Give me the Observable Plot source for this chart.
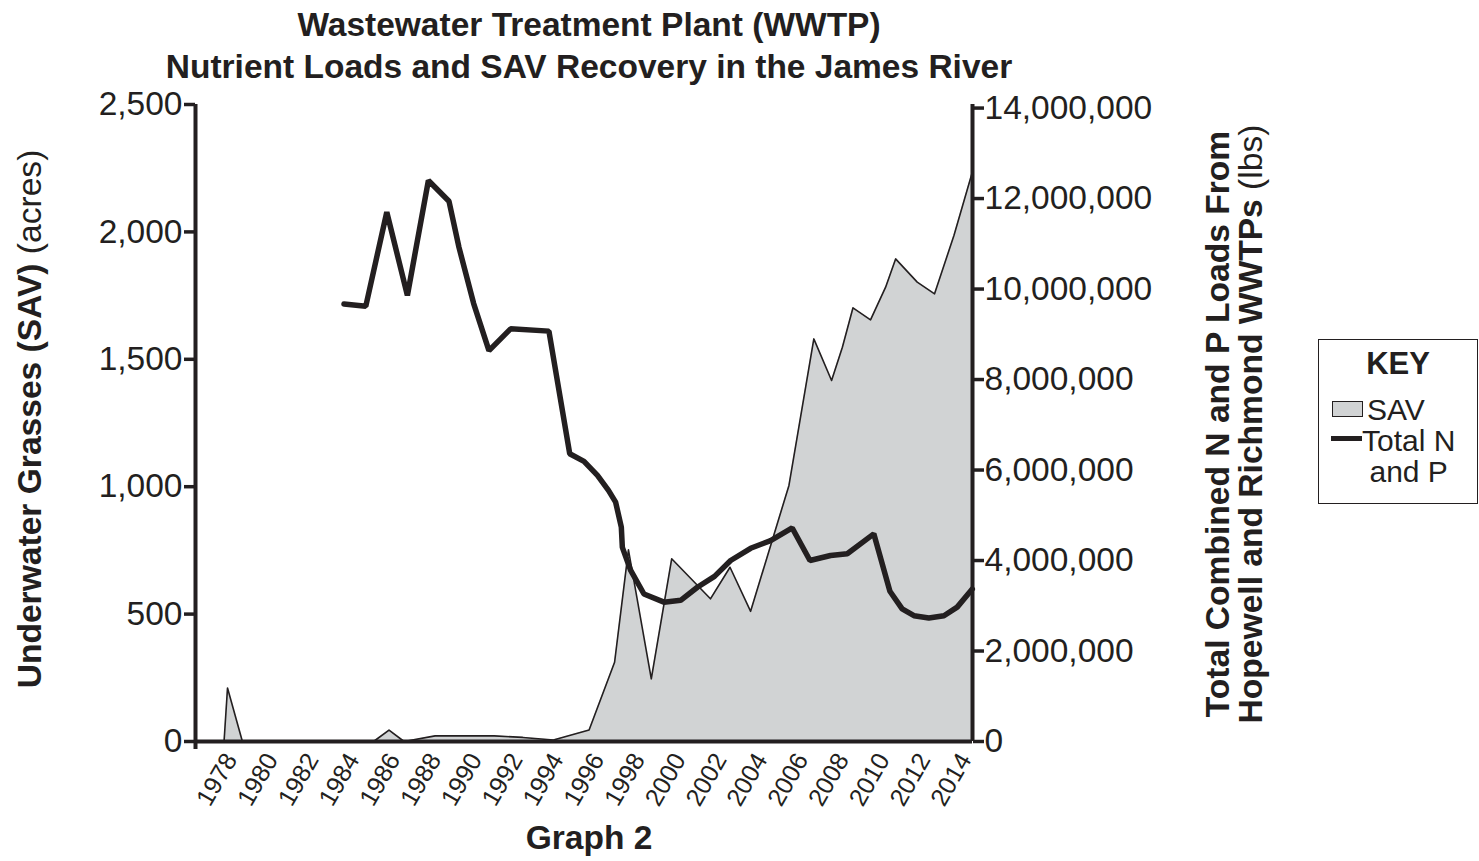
<!DOCTYPE html>
<html>
<head>
<meta charset="utf-8">
<script src="https://cdn.jsdelivr.net/npm/d3@7"></script>
<script src="https://cdn.jsdelivr.net/npm/@observablehq/plot@0.6"></script>
<style>
  html, body { margin: 0; padding: 0; background: #fff; }
  #wrap { position: relative; width: 1479px; height: 861px; font-family: "Liberation Sans", Arial, sans-serif; color: #231f20; overflow: hidden; }
  .t { position: absolute; white-space: nowrap; }
  .title { font-weight: bold; font-size: 33.5px; left: 589px; transform: translate(-50%, -50%); }
  .rot { transform: translate(-50%, -50%) rotate(-90deg); font-size: 33.6px; }
  #key { position: absolute; left: 1318px; top: 339px; width: 160px; height: 165px; border: 1.5px solid #231f20; box-sizing: border-box; }
</style>
</head>
<body>
<div id="wrap"></div>
<script>
// ---- data ----
const savYears = [1978.15, 1978.32, 1979.05, 1985.48, 1986.24, 1986.98, 1988.5, 1991.4, 1992.8, 1994.3, 1996.05, 1997.3, 1997.98, 1999.1, 2000.1, 2002.0, 2002.96, 2003.97, 2005.85, 2007.07, 2007.94, 2008.47, 2008.99, 2009.85, 2010.59, 2011.08, 2012.14, 2012.99, 2013.94, 2014.84];
const savAcres = [0, 210, 0, 0, 45, 0, 22, 22, 16, 6, 45, 311, 752, 246, 717, 560, 684, 511, 1005, 1580, 1417, 1547, 1702, 1655, 1783, 1894, 1803, 1757, 1986, 2234];

const nutYears = [1984.03, 1985.1, 1986.13, 1987.14, 1988.17, 1989.18, 1989.67, 1990.39, 1991.14, 1992.2, 1994.08, 1995.1, 1995.8, 1996.46, 1997.0, 1997.35, 1997.63, 1997.68, 1998.09, 1998.74, 1999.72, 2000.54, 2001.36, 2002.2, 2002.99, 2003.97, 2004.95, 2006.01, 2006.88, 2007.89, 2008.71, 2010.01, 2010.8, 2011.4, 2011.98, 2012.71, 2013.45, 2014.1, 2014.84];
const nutLbs = [9670000, 9620000, 11700000, 9860000, 12400000, 11940000, 10920000, 9680000, 8640000, 9120000, 9070000, 6360000, 6190000, 5880000, 5550000, 5290000, 4740000, 4290000, 3780000, 3260000, 3080000, 3120000, 3410000, 3650000, 4000000, 4270000, 4440000, 4720000, 4000000, 4110000, 4150000, 4590000, 3320000, 2930000, 2780000, 2730000, 2780000, 2970000, 3370000];

const yearTicks = [1978, 1980, 1982, 1984, 1986, 1988, 1990, 1992, 1994, 1996, 1998, 2000, 2002, 2004, 2006, 2008, 2010, 2012, 2014];
const acreTicks = [0, 500, 1000, 1500, 2000, 2500];
const lbsTicks = [0, 2000000, 4000000, 6000000, 8000000, 10000000, 12000000, 14000000];

// lbs -> acres equivalent on the shared vertical scale
const k = 2486 / 14000000;

const sav = savYears.map((y, i) => ({year: y, acres: savAcres[i]}));
const nut = nutYears.map((y, i) => ({year: y, lbs: nutLbs[i], v: nutLbs[i] * k}));

const ink = "#231f20";
const xDomain = [1976.75, 2014.85];
const fmt = d3.format(",");

const chart = Plot.plot({
  width: 1479,
  height: 861,
  marginLeft: 195,
  marginRight: 507,
  marginTop: 104,
  marginBottom: 120,
  style: {fontFamily: '"Liberation Sans", Arial, sans-serif', color: ink, background: "transparent", overflow: "visible"},
  x: {domain: xDomain, type: "linear"},
  y: {domain: [0, 2500]},
  marks: [
    Plot.areaY(sav, {x: "year", y: "acres", fill: "#d1d3d4"}),
    Plot.lineY(sav, {x: "year", y: "acres", stroke: ink, strokeWidth: 1.6}),
    Plot.lineY(nut, {x: "year", y: "v", stroke: ink, strokeWidth: 5.5, strokeLinejoin: "miter"}),
    Plot.axisY({anchor: "left", ticks: acreTicks, tickFormat: fmt, tickSize: 11, tickPadding: 2, fontSize: 33.5, strokeWidth: 3.5, label: null}),
    Plot.axisY({anchor: "right", ticks: lbsTicks.map(v => v * k), tickFormat: v => fmt(Math.round(v / k / 1e6) * 1e6), tickSize: 11, tickPadding: 1, fontSize: 33.5, strokeWidth: 3.5, label: null}),
    Plot.axisX({ticks: yearTicks, tickFormat: d => String(d), tickSize: 0, tickPadding: 14, tickRotate: -60, fontSize: 25, dx: 10, label: null}),
    Plot.ruleX([xDomain[0]], {stroke: ink, strokeWidth: 4, insetBottom: -8}),
    Plot.ruleX([xDomain[1]], {stroke: ink, strokeWidth: 4}),
    Plot.ruleY([0], {stroke: ink, strokeWidth: 4})
  ]
});
chart.style.position = "absolute";
chart.style.left = "0px";
chart.style.top = "0px";
const wrap = document.getElementById("wrap");
wrap.appendChild(chart);

function addText(html, cls, css) {
  const d = document.createElement("div");
  d.className = "t " + cls;
  d.innerHTML = html;
  Object.assign(d.style, css);
  wrap.appendChild(d);
  return d;
}
addText("Wastewater Treatment Plant (WWTP)", "title", {top: "25px"});
addText("Nutrient Loads and SAV Recovery in the James River", "title", {top: "67px"});
addText("Graph 2", "title", {top: "838px"});
addText("<b>Underwater Grasses (SAV)</b> (acres)", "rot", {left: "30px", top: "419px"});
addText("<b>Total Combined N and P Loads From</b>", "rot", {left: "1218px", top: "424px"});
addText("<b>Hopewell and Richmond WWTPs</b> (lbs)", "rot", {left: "1251px", top: "424px"});

const key = document.createElement("div");
key.id = "key";
key.innerHTML = `
  <div class="t" style="left:0;width:100%;text-align:center;top:8px;font-weight:bold;font-size:31px;line-height:32px;">KEY</div>
  <div style="position:absolute;left:13px;top:61px;width:31px;height:16px;background:#d1d3d4;border:1.5px solid ${ink};box-sizing:border-box;"></div>
  <div class="t" style="left:48px;top:57px;font-size:30px;line-height:26px;">SAV</div>
  <div style="position:absolute;left:12px;top:96px;width:31px;height:5px;background:${ink};"></div>
  <div class="t" style="left:43px;top:85px;font-size:30px;text-align:center;line-height:31px;">Total N<br>and P</div>
`;
wrap.appendChild(key);
</script>
</body>
</html>
